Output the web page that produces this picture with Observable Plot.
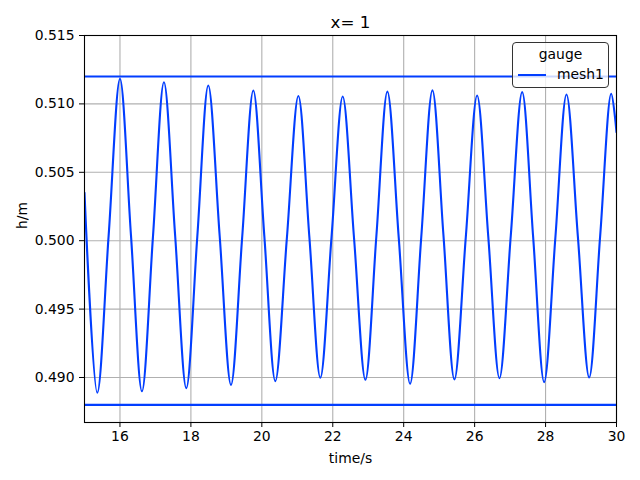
<!DOCTYPE html>
<html><head><meta charset="utf-8">
<script src="https://cdn.jsdelivr.net/npm/d3@7"></script>
<script src="https://cdn.jsdelivr.net/npm/@observablehq/plot@0.6"></script>
<style>
body{margin:0;background:#fff;}
#wrap{position:relative;width:640px;height:480px;font-family:"DejaVu Sans",sans-serif;}
#legend{position:absolute;left:512px;top:42px;width:95px;height:44px;border:1px solid #333;border-radius:4px;background:rgba(255,255,255,0.8);box-sizing:content-box;}
#legend .t{position:absolute;left:0;width:95px;top:3px;text-align:center;font-size:13.9px;color:#000;}
#legend .sw{position:absolute;left:5px;top:31px;width:28px;height:2px;}
#legend .l{position:absolute;left:44px;top:23px;font-size:13.9px;color:#000;}
</style></head><body><div id="wrap"></div>
<script>
const title = "x= 1";
const xLabel = "time/s";
const yLabel = "h/m";
const legendTitle = "gauge";
const seriesName = "mesh1";
const xTicks = [16, 18, 20, 22, 24, 26, 28, 30];
const yTicks = [0.490, 0.495, 0.500, 0.505, 0.510, 0.515];
const limits = [0.512, 0.488];
const time = [15.0, 15.36, 15.68, 16.0, 16.31, 16.62, 16.93, 17.24, 17.555, 17.87, 18.18, 18.49, 18.81, 19.13, 19.445, 19.76, 20.07, 20.38, 20.705, 21.03, 21.34, 21.65, 21.965, 22.28, 22.6, 22.92, 23.23, 23.54, 23.86, 24.18, 24.495, 24.81, 25.12, 25.43, 25.75, 26.07, 26.385, 26.70, 27.02, 27.34, 27.65, 27.96, 28.275, 28.59, 28.91, 29.23, 29.54, 29.85, 30.0];
const h = [0.5035, 0.48888, 0.50035, 0.51183, 0.50041, 0.48899, 0.50028, 0.51158, 0.50040, 0.48922, 0.50028, 0.51135, 0.50040, 0.48946, 0.50022, 0.51098, 0.50035, 0.48973, 0.50015, 0.51058, 0.50028, 0.48998, 0.50026, 0.51054, 0.50018, 0.48983, 0.50036, 0.51090, 0.50022, 0.48954, 0.50026, 0.51099, 0.50042, 0.48985, 0.50023, 0.51061, 0.50028, 0.48995, 0.50040, 0.51086, 0.50026, 0.48966, 0.50017, 0.51069, 0.50034, 0.49000, 0.50037, 0.51074, 0.50793];

const blue = "#023eff";
const data = time.map((t, i) => ({t, h: h[i]}));
const fs = "13.9px";

const chart = Plot.plot({
  width: 640, height: 480,
  marginLeft: 84, marginRight: 24, marginTop: 35, marginBottom: 58,
  style: {fontFamily: "DejaVu Sans, sans-serif", fontSize: fs, color: "#000", background: "#fff"},
  x: {domain: [15, 30]},
  y: {domain: [0.48671, 0.515]},
  marks: [
    Plot.gridX(xTicks, {stroke: "#b0b0b0", strokeOpacity: 1, strokeWidth: 1.1}),
    Plot.gridY(yTicks, {stroke: "#b0b0b0", strokeOpacity: 1, strokeWidth: 1.1}),
    Plot.ruleY(limits, {stroke: blue, strokeWidth: 2.1}),
    Plot.line(data, {x: "t", y: "h", curve: "catmull-rom", stroke: blue, strokeWidth: 2.1, clip: true}),
    Plot.frame({stroke: "#000", strokeWidth: 1.1}),
    Plot.axisX(xTicks, {tickSize: 5, tickPadding: 4, tickFormat: d => String(d), label: null, fontSize: fs}),
    Plot.axisY(yTicks, {tickSize: 5, tickPadding: 5, tickFormat: d3.format(".3f"), label: null, fontSize: fs}),
    Plot.text([xLabel], {text: d => d, frameAnchor: "bottom", lineAnchor: "middle", dy: 36, fontSize: fs}),
    Plot.text([yLabel], {text: d => d, frameAnchor: "left", lineAnchor: "middle", rotate: -90, dx: -62, fontSize: fs}),
    Plot.text([title], {text: d => d, frameAnchor: "top", lineAnchor: "middle", dy: -13, fontSize: "16.7px"})
  ]
});
const wrap = document.getElementById("wrap");
wrap.appendChild(chart);
const lg = document.createElement("div");
lg.id = "legend";
lg.innerHTML = `<div class="t"></div><div class="sw"></div><div class="l"></div>`;
lg.querySelector(".t").textContent = legendTitle;
lg.querySelector(".l").textContent = seriesName;
lg.querySelector(".sw").style.background = blue;
wrap.appendChild(lg);
</script></body></html>
